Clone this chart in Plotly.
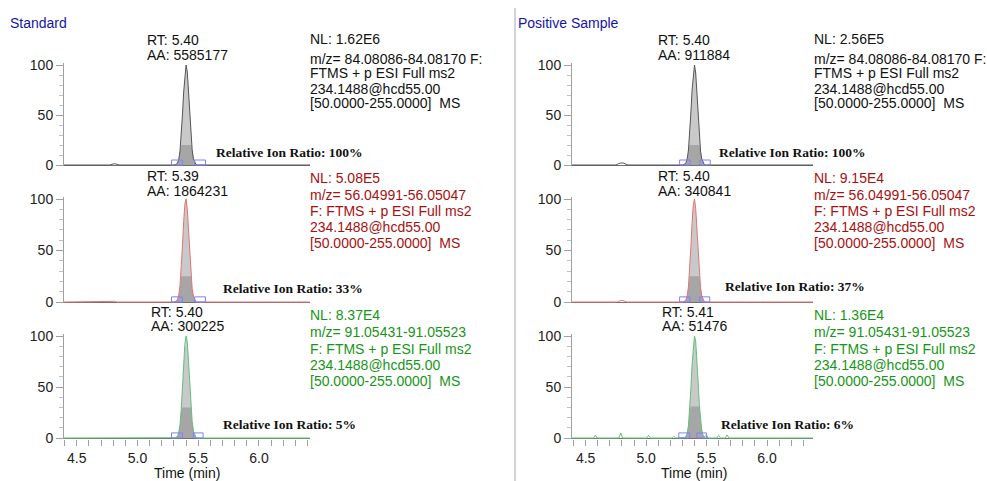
import plotly.graph_objects as go
import numpy as np

W, H = 987, 481

# ------------------------------------------------------------------ data
PEAK_T = [5.31, 5.32, 5.33, 5.34, 5.35, 5.36, 5.37, 5.38, 5.39, 5.40,
          5.41, 5.42, 5.43, 5.44, 5.45, 5.46, 5.47, 5.48]

# Standard, ion 1 (m/z 84)
std1_pre_t = [4.39, 4.77, 4.79, 4.81, 4.83, 4.85, 5.30]
std1_pre_v = [0, 0, 0.8, 1.2, 0.8, 0, 0]
std1_peak = [0.3, 0.8, 2.2, 6.0, 14, 29, 50, 73, 92, 100, 93, 74, 51, 30, 15, 6.5, 2.4, 0.8]
std1_post_t = [5.49, 6.42]
std1_post_v = [0, 0]

# Standard, ion 2 (m/z 56)
std2_pre_t = [4.39, 4.77, 4.79, 4.81, 4.83, 5.30]
std2_pre_v = [0, 0, 0.6, 0.8, 0, 0]
std2_peak = [0.4, 1.0, 2.8, 7.0, 16, 32, 54, 78, 95, 100, 90, 70, 47, 27, 13, 5.5, 2.0, 0.6]
std2_post_t = [5.49, 6.42]
std2_post_v = [0, 0]

# Standard, ion 3 (m/z 91)
std3_pre_t = [4.39, 5.30]
std3_pre_v = [0, 0]
std3_peak = [0.3, 0.8, 2.0, 5.5, 13, 28, 49, 72, 92, 100, 94, 75, 52, 31, 16, 7.0, 2.6, 0.9]
std3_post_t = [5.49, 5.97, 5.98, 5.99, 6.28, 6.29, 6.30, 6.42]
std3_post_v = [0, 0, 0.5, 0, 0, 0.5, 0, 0]

# Positive sample, ion 1
pos1_pre_t = [4.385, 4.75, 4.77, 4.79, 4.81, 4.83, 4.85, 5.30]
pos1_pre_v = [0, 0, 1.2, 2.0, 2.0, 1.2, 0, 0]
pos1_peak = [0.3, 0.9, 2.5, 6.5, 15, 30, 52, 75, 93, 100, 92, 72, 49, 28, 14, 6.0, 2.2, 0.7]
pos1_post_t = [5.49, 6.38]
pos1_post_v = [0, 0]

# Positive sample, ion 2
pos2_pre_t = [4.385, 4.76, 4.78, 4.80, 4.82, 4.84, 5.30]
pos2_pre_v = [0, 0, 1.0, 1.5, 1.0, 0, 0]
pos2_peak = [0.3, 0.8, 2.4, 6.2, 15, 31, 53, 77, 94, 100, 91, 71, 48, 28, 14, 6.0, 2.2, 0.7]
pos2_post_t = [5.49, 6.38]
pos2_post_v = [0, 0]

# Positive sample, ion 3
pos3_pre_t = [4.385, 4.565, 4.58, 4.595, 4.775, 4.79, 4.805, 5.005, 5.02, 5.035,
              5.215, 5.23, 5.245, 5.30]
pos3_pre_v = [0, 0, 2.7, 0, 0, 5.0, 0, 0, 2.5, 0, 0, 1.5, 0, 0]
pos3_peak = [0.2, 0.6, 1.8, 5.0, 12, 26, 48, 72, 92, 100, 95, 78, 55, 33, 17, 7.5, 3.0, 1.0]
pos3_post_t = [5.49, 5.50, 5.51, 5.585, 5.60, 5.615, 5.655, 5.67, 5.685, 6.38]
pos3_post_v = [2.0, 3.0, 0, 0, 2.5, 0, 0, 3.0, 0, 0]

# integration boundary markers (start box, end box), minutes
boxes = [
    [[5.28, 5.37], [5.47, 5.56]],
    [[5.28, 5.37], [5.47, 5.56]],
    [[5.28, 5.37], [5.46, 5.54]],
    [[5.277, 5.363], [5.445, 5.53]],
    [[5.277, 5.363], [5.443, 5.526]],
    [[5.27, 5.36], [5.42, 5.50]],
]
BOX_H = 5

rt_labels = ["RT: 5.40", "RT: 5.39", "RT: 5.40", "RT: 5.40", "RT: 5.40", "RT: 5.41"]
aa_labels = ["AA: 5585177", "AA: 1864231", "AA: 300225", "AA: 911884", "AA: 340841", "AA: 51476"]
nl_labels = ["NL: 1.62E6", "NL: 5.08E5", "NL: 8.37E4", "NL: 2.56E5", "NL: 9.15E4", "NL: 1.36E4"]
scan_lines_1 = ["m/z= 84.08086-84.08170 F:", "FTMS + p ESI Full ms2",
                "234.1488@hcd55.00", "[50.0000-255.0000]  MS"]
scan_lines_2 = ["m/z= 56.04991-56.05047", "F: FTMS + p ESI Full ms2",
                "234.1488@hcd55.00", "[50.0000-255.0000]  MS"]
scan_lines_3 = ["m/z= 91.05431-91.05523", "F: FTMS + p ESI Full ms2",
                "234.1488@hcd55.00", "[50.0000-255.0000]  MS"]
ratio_labels = ["Relative Ion Ratio: 100%", "Relative Ion Ratio: 33%", "Relative Ion Ratio: 5%",
                "Relative Ion Ratio: 100%", "Relative Ion Ratio: 37%", "Relative Ion Ratio: 6%"]
panel_titles = ["Standard", "Positive Sample"]
x_tick_labels = ["4.5", "5.0", "5.5", "6.0"]
x_tick_vals = [4.5, 5.0, 5.5, 6.0]
y_tick_vals = [0, 50, 100]
shade_levels = [20, 25, 30, 20, 25, 31]

# ------------------------------------------------------------------ styling / layout
FONT = "Liberation Sans, Arial, sans-serif"
SERIF = "Liberation Serif, Times New Roman, serif"
LINE_COLORS = ["#555555", "#e57373", "#5ec27a"]
TEXT_COLORS = ["#111111", "#a81010", "#169616"]
TITLE_COLOR = "#1414a8"
AXIS_GRAY = "#a0a0a0"

XPIX = {"L": (64, 310), "R": (572, 813)}
XRANGE = {"L": [4.395, 6.42], "R": [4.387, 6.38]}
YPIX = [(165, 65), (302, 199), (438, 336)]
YLO, YHI = -1, 102

traces_data = [
    (std1_pre_t, std1_pre_v, std1_peak, std1_post_t, std1_post_v),
    (std2_pre_t, std2_pre_v, std2_peak, std2_post_t, std2_post_v),
    (std3_pre_t, std3_pre_v, std3_peak, std3_post_t, std3_post_v),
    (pos1_pre_t, pos1_pre_v, pos1_peak, pos1_post_t, pos1_post_v),
    (pos2_pre_t, pos2_pre_v, pos2_peak, pos2_post_t, pos2_post_v),
    (pos3_pre_t, pos3_pre_v, pos3_peak, pos3_post_t, pos3_post_v),
]

fig = go.Figure()
layout = {}
shapes = []
annotations = []


def P(px, py):
    return px / W, 1 - py / H


for i in range(6):
    side = "L" if i < 3 else "R"
    row = i % 3
    n = i + 1
    xa = "x" if n == 1 else f"x{n}"
    ya = "y" if n == 1 else f"y{n}"
    xkey = "xaxis" if n == 1 else f"xaxis{n}"
    ykey = "yaxis" if n == 1 else f"yaxis{n}"

    y0p, y100p = YPIX[row]
    s = (y0p - y100p) / 100.0
    bot_px = y0p + (0 - YLO) * s
    top_px = y100p - (YHI - 100) * s
    x0p, x1p = XPIX[side]

    pre_t, pre_v, peak_v, post_t, post_v = traces_data[i]
    t_all = list(pre_t) + PEAK_T + list(post_t)
    v_all = list(pre_v) + list(peak_v) + list(post_v)
    pk = np.array(peak_v, dtype=float)
    pt = [pre_t[-1]] + PEAK_T + [post_t[0]]
    pv = [0.0] + list(pk) + [0.0]
    pv_dark = [0.0] + list(np.minimum(pk, shade_levels[i])) + [0.0]

    fig.add_trace(go.Scatter(x=pt, y=pv, mode="lines", fill="tozeroy",
                             fillcolor="#c9c9c9", line=dict(width=0),
                             xaxis=xa, yaxis=ya, showlegend=False, hoverinfo="skip"))
    fig.add_trace(go.Scatter(x=pt, y=pv_dark, mode="lines", fill="tozeroy",
                             fillcolor="#a6a6a6", line=dict(width=0),
                             xaxis=xa, yaxis=ya, showlegend=False, hoverinfo="skip"))
    fig.add_trace(go.Scatter(x=t_all, y=v_all, mode="lines",
                             line=dict(color=LINE_COLORS[row], width=1),
                             xaxis=xa, yaxis=ya, showlegend=False))

    is_bottom = row == 2
    xaxis = dict(domain=[x0p / W, x1p / W], range=XRANGE[side], anchor=ya,
                 showgrid=False, zeroline=False, showline=False, automargin=False)
    if is_bottom:
        xaxis.update(tickmode="array", tickvals=x_tick_vals, ticktext=x_tick_labels,
                     ticks="outside", ticklen=6, tickcolor=AXIS_GRAY, tickwidth=1,
                     tickfont=dict(family=FONT, size=14, color="#222222"),
                     minor=dict(dtick=0.1, tick0=4.4, ticks="outside", ticklen=6,
                                tickcolor=AXIS_GRAY, tickwidth=1))
    else:
        xaxis.update(showticklabels=False, ticks="")
    layout[xkey] = xaxis
    layout[ykey] = dict(domain=[1 - bot_px / H, 1 - top_px / H], range=[YLO, YHI],
                        anchor=xa, showgrid=False, zeroline=True, automargin=False,
                        zerolinecolor="#707070", zerolinewidth=1,
                        showline=True, linecolor=AXIS_GRAY, linewidth=1,
                        tickmode="array", tickvals=y_tick_vals,
                        ticks="outside", ticklen=7, tickcolor=AXIS_GRAY,
                        tickfont=dict(family=FONT, size=14, color="#222222"),
                        minor=dict(dtick=10, tick0=0, ticks="outside", ticklen=4,
                                   tickcolor="#c0c0c0", tickwidth=1))

    for (b0, b1) in boxes[i]:
        shapes.append(dict(type="rect", xref=xa, yref=ya, x0=b0, x1=b1, y0=0, y1=BOX_H,
                           line=dict(color="#8080ff", width=1), fillcolor="rgba(0,0,0,0)",
                           layer="above"))

# ------------------------------------------------------------------ text
RT_X = [147, 147, 151, 658, 658, 662]
RT_Y = [(40, 55), (176, 191), (312, 326), (40, 55), (176, 191), (312, 326)]
NL_X = {"L": 310, "R": 814}
NL_Y = [[39, 59, 73, 89, 103], [178, 195, 211, 227, 243], [315, 332, 349, 365, 381]]
RATIO_POS = [(216, 152), (223, 288), (223, 424), (719, 152), (725, 286), (721, 424)]
scan_lines = [scan_lines_1, scan_lines_2, scan_lines_3]


def ann(text, px, py, color="#111111", size=14, family=FONT, xanchor="left", bold=False):
    x, y = P(px, py)
    annotations.append(dict(text=f"<b>{text}</b>" if bold else text, x=x, y=y,
                            xref="paper", yref="paper", xanchor=xanchor, yanchor="middle",
                            borderpad=0, borderwidth=0,
                            showarrow=False, font=dict(family=family, size=size, color=color)))


for i in range(6):
    side = "L" if i < 3 else "R"
    row = i % 3
    ann(rt_labels[i], RT_X[i], RT_Y[i][0])
    ann(aa_labels[i], RT_X[i], RT_Y[i][1])
    ann(nl_labels[i], NL_X[side], NL_Y[row][0], color=TEXT_COLORS[row])
    for k, line in enumerate(scan_lines[row]):
        ann(line, NL_X[side], NL_Y[row][k + 1], color=TEXT_COLORS[row])
    ann(ratio_labels[i], RATIO_POS[i][0], RATIO_POS[i][1], color="#111111",
        size=13.5, family=SERIF, bold=True)

ann(panel_titles[0], 10, 23, color=TITLE_COLOR)
ann(panel_titles[1], 518, 23, color=TITLE_COLOR)
ann("Time (min)", 187, 473, xanchor="center")
ann("Time (min)", 694, 473, xanchor="center")

sx0, sy0 = P(515, 481)
sx1, sy1 = P(515, 8)
shapes.append(dict(type="line", xref="paper", yref="paper", x0=sx0, x1=sx1, y0=sy0, y1=sy1,
                   line=dict(color="#a8a8a8", width=1)))

fig.update_layout(width=W, height=H, margin=dict(l=0, r=0, t=0, b=0),
                  paper_bgcolor="white", plot_bgcolor="white",
                  shapes=shapes, annotations=annotations, **layout)

fig.write_html("out.html")
